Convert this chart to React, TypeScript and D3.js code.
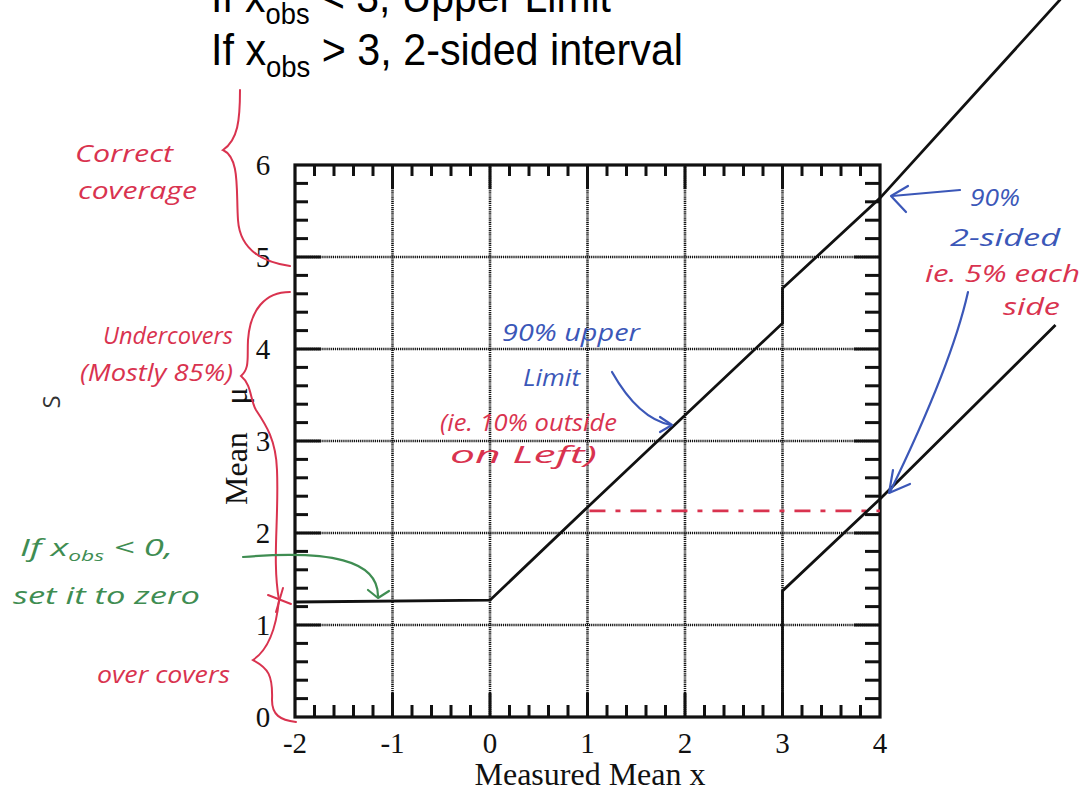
import React from 'react';
import * as d3 from 'd3';

// axis ticks
const xTicks = [-2, -1, 0, 1, 2, 3, 4];
const yTicks = [0, 1, 2, 3, 4, 5, 6];

// upper edge of the confidence belt (upper limit, then 2-sided above x = 3)
const upperX = [-2, 0, 1, 3, 3, 4, 5.85];
const upperMu = [1.25, 1.27, 2.28, 4.28, 4.66, 5.64, 7.8];

// lower edge of the belt (starts at x = 3)
const lowerX = [3, 3, 4, 5.8];
const lowerMu = [0, 1.37, 2.37, 4.26];

// red dashed guide drawn by hand
const dashX = [1.02, 4];
const dashMu = [2.24, 2.24];

const RED = '#d9334f';
const BLUE = '#3b57b8';
const GREEN = '#3f8d52';

// handwritten notes: text, x, baseline, width, colour
const notes: [string, number, number, number, string][] = [
  ['Correct', 75, 162, 98, RED],
  ['coverage', 78, 199, 119, RED],
  ['Undercovers', 103, 344, 130, RED],
  ['(Mostly 85%)', 80, 381, 153, RED],
  ['set it to zero', 13, 604, 187, GREEN],
  ['over covers', 97, 683, 133, RED],
  ['90% upper', 502, 341, 138, BLUE],
  ['Limit', 523, 386, 57, BLUE],
  ['(ie. 10% outside', 440, 431, 177, RED],
  ['on Left)', 450, 463, 147, RED],
  ['90%', 970, 206, 50, BLUE],
  ['2-sided', 950, 246, 110, BLUE],
  ['ie. 5% each', 925, 282, 155, RED],
  ['side', 1003, 315, 57, RED],
];

export default function App() {
  const x = d3.scaleLinear().domain([-2, 4]).range([295, 880]);
  const y = d3.scaleLinear().domain([0, 6]).range([717, 165]);

  const line = d3.line<[number, number]>()
    .x(d => x(d[0]))
    .y(d => y(d[1]));

  const upper = line(upperX.map((v, i) => [v, upperMu[i]]));
  const lower = line(lowerX.map((v, i) => [v, lowerMu[i]]));
  const dashed = line(dashX.map((v, i) => [v, dashMu[i]]));

  const [x0, x1] = x.range();
  const [y0, y1] = y.range();

  const minorX = d3.range(-2, 4.001, 0.2).filter(v => Math.abs(v - Math.round(v)) > 0.01);
  const minorY = d3.range(0, 6.001, 0.2).filter(v => Math.abs(v - Math.round(v)) > 0.01);
  const innerX = xTicks.slice(1, -1);
  const innerY = yTicks.slice(1, -1);

  const hand = { fontFamily: 'Open Sans, sans-serif', fontStyle: 'italic' as const, fontSize: 24 };

  return (
    <svg width={1084} height={790} style={{ position: 'fixed', left: 0, top: 0, background: '#fff' }}>
      {/* header text */}
      <g fontFamily="Liberation Sans, Arial, sans-serif" fill="#000">
        <text x={211} y={12} fontSize={45} textLength={400} lengthAdjust="spacingAndGlyphs">
          If x<tspan fontSize={30} dy={12}>obs</tspan><tspan dy={-12}> &lt; 3, Upper Limit</tspan>
        </text>
        <text x={211} y={65} fontSize={45} textLength={472} lengthAdjust="spacingAndGlyphs">
          If x<tspan fontSize={30} dy={12}>obs</tspan><tspan dy={-12}> &gt; 3, 2-sided interval</tspan>
        </text>
      </g>

      {/* dotted grid */}
      <g stroke="#111" strokeWidth={2.6} strokeDasharray="1.2 0.9">
        {innerX.map(v => <line key={'gx' + v} x1={x(v)} x2={x(v)} y1={y1} y2={y0} />)}
        {innerY.map(v => <line key={'gy' + v} x1={x0} x2={x1} y1={y(v)} y2={y(v)} />)}
      </g>

      {/* ticks */}
      <g stroke="#111" strokeWidth={3}>
        {minorX.map(v => (
          <g key={'tx' + v}>
            <line x1={x(v)} x2={x(v)} y1={y0} y2={y0 - 12} />
            <line x1={x(v)} x2={x(v)} y1={y1} y2={y1 + 11} />
          </g>
        ))}
        {minorY.map(v => (
          <g key={'ty' + v}>
            <line x1={x0} x2={x0 + 13} y1={y(v)} y2={y(v)} />
            <line x1={x1} x2={x1 - 15} y1={y(v)} y2={y(v)} />
          </g>
        ))}
        {innerX.map(v => (
          <g key={'mx' + v}>
            <line x1={x(v)} x2={x(v)} y1={y0} y2={y0 - 24} />
            <line x1={x(v)} x2={x(v)} y1={y1} y2={y1 + 24} />
          </g>
        ))}
        {innerY.map(v => (
          <g key={'my' + v}>
            <line x1={x0} x2={x0 + 26} y1={y(v)} y2={y(v)} />
            <line x1={x1} x2={x1 - 26} y1={y(v)} y2={y(v)} />
          </g>
        ))}
      </g>

      {/* frame */}
      <rect x={x0} y={y1} width={x1 - x0} height={y0 - y1} fill="none" stroke="#111" strokeWidth={3.2} />

      {/* tick labels */}
      <g fontFamily="Liberation Serif, Times New Roman, serif" fontSize={29} fill="#111" textAnchor="middle">
        {xTicks.map(v => <text key={'lx' + v} x={x(v)} y={753}>{v}</text>)}
        {yTicks.map(v => <text key={'ly' + v} x={263} y={y(v)} dy="0.35em">{v}</text>)}
        <text x={590} y={785} fontSize={32}>Measured Mean x</text>
        <text transform="translate(247,505) rotate(-90)" fontSize={32} textAnchor="start">Mean</text>
        <text transform="translate(247,396) rotate(-90)" fontSize={32}>μ</text>
      </g>

      {/* belt */}
      <path d={dashed ?? ''} fill="none" stroke={RED} strokeWidth={2.6} strokeDasharray="16 10 5 10" />
      <path d={upper ?? ''} fill="none" stroke="#111" strokeWidth={2.8} />
      <path d={lower ?? ''} fill="none" stroke="#111" strokeWidth={2.8} />

      {/* handwritten braces */}
      <g fill="none" stroke={RED} strokeWidth={2} strokeLinecap="round">
        <path d="M240 90 C240 120 238 140 223 150 C240 158 236 190 238 220 C240 250 262 262 290 266" />
        <path d="M290 292 C265 292 250 310 248 340 C247 358 250 368 241 376 C252 385 250 400 256 410 C266 425 276 440 277 470 C279 520 272 560 279 600" />
        <path d="M268 595 L291 604 M283 588 L276 612" />
        <path d="M279 600 C276 630 268 650 253 660 C268 668 273 675 272 700 C272 715 280 720 296 722" />
      </g>

      {/* arrows */}
      <g fill="none" strokeWidth={2.2} strokeLinecap="round" strokeLinejoin="round">
        <path d="M243 557 C330 550 378 560 378 596" stroke={GREEN} />
        <path d="M368 590 L378 598 L389 591" stroke={GREEN} />
        <path d="M612 372 C625 395 645 420 671 425" stroke={BLUE} />
        <path d="M660 417 L672 425 L660 432" stroke={BLUE} />
        <path d="M960 190 L892 196" stroke={BLUE} />
        <path d="M908 186 L891 196 L906 212" stroke={BLUE} />
        <path d="M968 292 C955 350 925 420 890 492" stroke={BLUE} />
        <path d="M893 470 L889 493 L910 484" stroke={BLUE} />
      </g>

      {/* handwritten notes */}
      <g {...hand}>
        {notes.map(([t, nx, ny, w, c]) => (
          <text key={t} x={nx} y={ny} fill={c} textLength={w} lengthAdjust="spacingAndGlyphs">{t}</text>
        ))}
        <text x={20} y={556} fill={GREEN} textLength={153} lengthAdjust="spacingAndGlyphs">
          If x<tspan fontSize={15} dy={5}>obs</tspan><tspan dy={-5}> &lt; 0,</tspan>
        </text>
        <text transform="translate(60,402) rotate(-90)" fill="#333" fontSize={24} fontStyle="normal" textAnchor="middle">S</text>
      </g>
    </svg>
  );
}
